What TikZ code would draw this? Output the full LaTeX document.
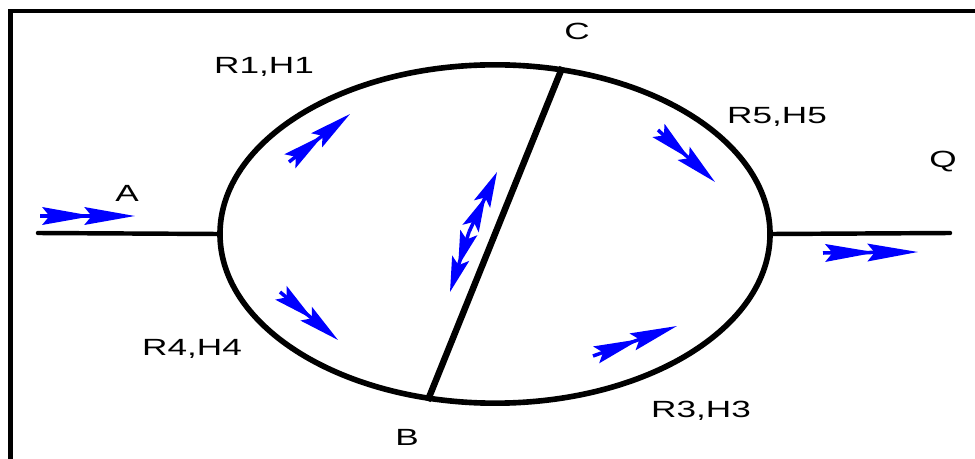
\documentclass[tikz,border=0pt]{standalone}
\usepackage{fontspec}
\setmainfont{Liberation Sans}[FakeStretch=1.5]
\usetikzlibrary{arrows.meta,shapes.geometric}
\begin{document}
\begin{tikzpicture}[
  x=0.03cm, y=-0.03cm,
  lbl/.style={font=\fontsize{20}{20}\selectfont, inner sep=0pt},
  pipe/.style={line width=3.8pt, line cap=round},
  frame/.style={line width=3.8pt},
  flow/.style={draw=blue, line width=3pt,
    -{Stealth[length=#1,width=15pt,inset=6pt,sep=-7pt]Stealth[length=#1,width=15pt,inset=6pt]}},
  flow/.default=36pt
]
\useasboundingbox (0,0) rectangle (975,459);
\draw[frame] (10.5,470) -- (10.5,11) -- (990,11);

\node[draw, ellipse, line width=4.8pt, inner sep=0pt,
  minimum width=16.5cm, minimum height=10.15cm] (ring) at (495,234) {};
\coordinate (in)  at (38,233);
\coordinate (out) at (950,233);
\draw[pipe] (in) -- (ring.west);
\draw[pipe] (ring.east) -- (out);
\draw[line width=5.5pt] (ring.68.6) -- (ring.248);

\node[lbl] (lA)  at (127,193) {A};
\node[lbl] (lQ)  at (943,162) {Q};
\node[lbl] (lC)  at (577,31)  {C};
\node[lbl] (lB)  at (407,437) {B};
\node[lbl] (r1)  at (264,67)  {R1,H1};
\node[lbl] (r5)  at (777,117) {R5,H5};
\node[lbl] (r4)  at (192,349) {R4,H4};
\node[lbl] (r3)  at (701,411) {R3,H3};

% flow directions
\coordinate (fa1) at (40,216);  \coordinate (fa2) at (135,216);
\coordinate (fq1) at (823,253); \coordinate (fq2) at (918,252);
\coordinate (f11) at (289,162); \coordinate (f12) at (350,114);
\coordinate (f51) at (658,130); \coordinate (f52) at (715,182);
\coordinate (f41) at (280,292); \coordinate (f42) at (338,340);
\coordinate (f31) at (593,356); \coordinate (f32) at (677,326);
\coordinate (fm)  at (469,232);
\coordinate (fu)  at (497,172); \coordinate (fd)  at (450,292);
\draw[flow=43pt] (fa1) -- (fa2);
\draw[flow=43pt] (fq1) -- (fq2);
\draw[flow=36pt] (f11) -- (f12);
\draw[flow=36pt] (f51) -- (f52);
\draw[flow=35pt] (f41) -- (f42);
\draw[flow=40pt] (f31) -- (f32);
\draw[flow=30pt] (fm) -- (fu);
\draw[flow=30pt] (fm) -- (fd);
\end{tikzpicture}
\end{document}
